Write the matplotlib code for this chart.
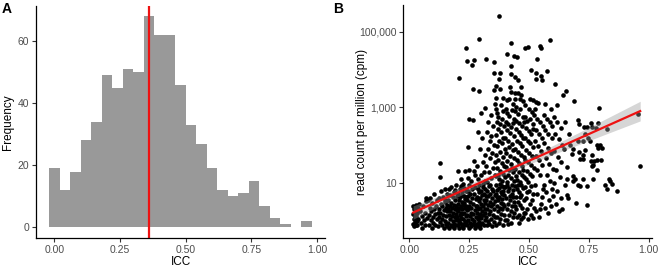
import numpy as np
import matplotlib.pyplot as plt

plt.rcParams['font.family'] = ['Liberation Sans', 'DejaVu Sans']

# -------------------------------
# Panel A: histogram of ICC
# -------------------------------
bin_centers = [0.00, 0.04, 0.08, 0.12, 0.16, 0.20, 0.24, 0.28, 0.32, 0.36, 0.40, 0.44,
               0.48, 0.52, 0.56, 0.60, 0.64, 0.68, 0.72, 0.76, 0.80, 0.84, 0.88, 0.92, 0.96]
bin_counts = [19, 12, 18, 28, 34, 49, 45, 51, 50, 68, 62, 62,
              46, 33, 27, 19, 12, 10, 11, 15, 7, 3, 1, 0, 2]
icc_mean = 0.36

# -------------------------------
# Panel B: ICC vs log10(cpm) (grouped by ICC strip)
# -------------------------------
icc = [
    # 0.00-0.04
    0.016, 0.018, 0.017, 0.019, 0.016, 0.020, 0.022, 0.024, 0.023, 0.025, 0.026, 0.028, 0.029, 0.030, 0.031, 0.033, 0.034, 0.036, 0.038,
    # 0.04-0.08
    0.042, 0.045, 0.048, 0.052, 0.055, 0.058, 0.061, 0.064, 0.067, 0.071, 0.074, 0.077, 0.069,
    # 0.08-0.12
    0.081, 0.083, 0.085, 0.087, 0.089, 0.091, 0.093, 0.095, 0.097, 0.099, 0.102, 0.104, 0.106, 0.109, 0.111, 0.114, 0.116, 0.118,
    # 0.12-0.16
    0.121, 0.122, 0.124, 0.125, 0.127, 0.129, 0.129, 0.130, 0.132, 0.133, 0.135, 0.137, 0.138, 0.140, 0.142, 0.143, 0.145, 0.147,
    0.149, 0.150, 0.152, 0.153, 0.155, 0.156, 0.157, 0.158, 0.159, 0.151,
    # 0.16-0.20
    0.161, 0.162, 0.163, 0.165, 0.166, 0.167, 0.168, 0.170, 0.171, 0.172, 0.174, 0.175, 0.176, 0.178, 0.179, 0.180, 0.181, 0.183,
    0.184, 0.185, 0.186, 0.187, 0.189, 0.190, 0.191, 0.192, 0.193, 0.194, 0.195, 0.196, 0.197, 0.198, 0.199, 0.188,
    # 0.20-0.24
    0.207, 0.235, 0.203, 0.231, 0.215, 0.226,
    0.201, 0.202, 0.203, 0.204, 0.205, 0.206, 0.207, 0.208, 0.209, 0.210, 0.211, 0.212, 0.213, 0.214, 0.216, 0.217, 0.218, 0.219,
    0.220, 0.221, 0.222, 0.223, 0.224, 0.225, 0.227, 0.228, 0.229, 0.230, 0.232, 0.233, 0.234, 0.236, 0.237, 0.238, 0.239, 0.229,
    0.219, 0.209, 0.226, 0.214, 0.236, 0.203, 0.238,
    # 0.24-0.28
    0.242, 0.270, 0.261, 0.265, 0.251, 0.268, 0.247, 0.272, 0.251, 0.272, 0.276,
    0.241, 0.242, 0.243, 0.244, 0.245, 0.246, 0.247, 0.248, 0.249, 0.250, 0.252, 0.253, 0.254, 0.255, 0.256, 0.257, 0.258, 0.259,
    0.260, 0.262, 0.263, 0.264, 0.266, 0.267, 0.269, 0.271, 0.273, 0.274, 0.275, 0.277, 0.278, 0.279, 0.245, 0.276,
    # 0.28-0.32
    0.292, 0.290, 0.318, 0.300, 0.303, 0.314, 0.285, 0.295, 0.308, 0.283, 0.312, 0.298, 0.288, 0.317,
    0.281, 0.282, 0.283, 0.284, 0.285, 0.286, 0.287, 0.288, 0.289, 0.290, 0.291, 0.292, 0.293, 0.294, 0.295, 0.296, 0.297, 0.299,
    0.300, 0.301, 0.302, 0.304, 0.305, 0.306, 0.307, 0.309, 0.310, 0.311, 0.313, 0.314, 0.315, 0.316, 0.317, 0.318, 0.319, 0.297, 0.308,
    # 0.32-0.36
    0.321, 0.354, 0.355, 0.354, 0.357, 0.340, 0.330, 0.348, 0.325, 0.343, 0.335, 0.352, 0.328, 0.345, 0.338, 0.356, 0.322, 0.349,
    0.333, 0.358, 0.341, 0.326,
    0.321, 0.322, 0.323, 0.324, 0.325, 0.327, 0.328, 0.329, 0.331, 0.332, 0.334, 0.335, 0.337, 0.339, 0.340, 0.342, 0.344, 0.346,
    0.347, 0.349, 0.350, 0.351, 0.353, 0.355, 0.356, 0.358, 0.359, 0.336,
    # 0.36-0.40
    0.374, 0.378, 0.375, 0.364, 0.378, 0.364, 0.392, 0.382,
    0.362, 0.368, 0.372, 0.385, 0.391, 0.365, 0.378, 0.396, 0.370, 0.383, 0.361, 0.392, 0.375, 0.387, 0.366, 0.398, 0.379, 0.363,
    0.390, 0.372, 0.385, 0.395, 0.367, 0.380, 0.392, 0.362, 0.375, 0.388, 0.398, 0.370,
    0.361, 0.363, 0.365, 0.366, 0.368, 0.369, 0.371, 0.373, 0.374, 0.376, 0.377, 0.379, 0.381, 0.382, 0.384, 0.386, 0.387, 0.389,
    0.390, 0.391, 0.393, 0.394, 0.396, 0.397, 0.399, 0.380, 0.367, 0.385, 0.395, 0.364,
    # 0.40-0.44
    0.426, 0.406, 0.438, 0.424, 0.424, 0.419, 0.426, 0.406, 0.415, 0.435,
    0.402, 0.410, 0.418, 0.428, 0.436, 0.404, 0.414, 0.425, 0.433, 0.407, 0.420, 0.438, 0.401, 0.412, 0.429, 0.416, 0.434, 0.405,
    0.422, 0.439, 0.409, 0.426, 0.403, 0.418, 0.432, 0.411, 0.424, 0.437, 0.406, 0.430,
    0.401, 0.404, 0.406, 0.408, 0.411, 0.413, 0.416, 0.418, 0.421, 0.423, 0.426, 0.428, 0.430, 0.433, 0.435, 0.437, 0.439, 0.419,
    0.409, 0.427, 0.414, 0.432,
    # 0.44-0.48
    0.449, 0.443, 0.454, 0.440, 0.454, 0.468, 0.465, 0.442, 0.461, 0.475, 0.447,
    0.441, 0.452, 0.463, 0.474, 0.446, 0.458, 0.470, 0.478, 0.444, 0.456, 0.467, 0.476, 0.449, 0.461, 0.472, 0.442, 0.455, 0.468,
    0.479, 0.448, 0.460, 0.471, 0.443, 0.457, 0.469, 0.477, 0.451, 0.464, 0.445, 0.473,
    0.441, 0.444, 0.447, 0.450, 0.453, 0.456, 0.459, 0.462, 0.465, 0.468, 0.471, 0.474, 0.477, 0.479, 0.452, 0.466, 0.458, 0.449,
    0.475, 0.462, 0.443,
    # 0.48-0.52
    0.485, 0.496, 0.510, 0.503, 0.517, 0.485, 0.500, 0.512,
    0.482, 0.491, 0.505, 0.515, 0.487, 0.498, 0.509, 0.518, 0.483, 0.494, 0.506, 0.516, 0.488, 0.499, 0.511, 0.484, 0.495, 0.507,
    0.519, 0.490, 0.502, 0.513, 0.486, 0.497,
    0.481, 0.487, 0.493, 0.499, 0.504, 0.510, 0.515, 0.519, 0.484, 0.496, 0.508, 0.513, 0.490, 0.517,
    # 0.52-0.56
    0.544, 0.549, 0.535, 0.531, 0.551, 0.531, 0.554, 0.531, 0.538, 0.525,
    0.522, 0.534, 0.546, 0.557, 0.527, 0.540, 0.552, 0.524, 0.537, 0.549, 0.529, 0.543, 0.556, 0.532, 0.547,
    0.523, 0.535, 0.548, 0.558, 0.528, 0.541, 0.553, 0.545,
    # 0.56-0.60
    0.586, 0.576, 0.565, 0.590,
    0.562, 0.575, 0.588, 0.597, 0.568, 0.581, 0.594, 0.564, 0.578, 0.591, 0.570, 0.585, 0.598, 0.573,
    0.561, 0.572, 0.583, 0.595, 0.566, 0.579, 0.590, 0.599, 0.586,
    # 0.60-0.64
    0.607, 0.615, 0.603, 0.618, 0.632, 0.610, 0.625, 0.638, 0.606, 0.621, 0.635, 0.614, 0.629, 0.604, 0.617, 0.633, 0.611, 0.626, 0.639,
    # tail
    0.656, 0.642, 0.668, 0.678, 0.657, 0.657, 0.664, 0.650, 0.645, 0.660, 0.672, 0.648,
    0.686, 0.682, 0.692, 0.685, 0.685, 0.696, 0.706, 0.713, 0.706, 0.710, 0.706, 0.710, 0.713,
    0.726, 0.733, 0.726, 0.726, 0.740, 0.743, 0.740, 0.726, 0.729, 0.735, 0.747,
    0.754, 0.761, 0.765, 0.761, 0.757, 0.771, 0.768, 0.761, 0.785, 0.785, 0.782, 0.789, 0.789, 0.792, 0.757, 0.778,
    0.796, 0.799, 0.803, 0.817, 0.824, 0.824, 0.835,
    0.840, 0.846, 0.868,
    0.955, 0.964,
]
log10_cpm = [
    # 0.00-0.04
    0.40, 0.30, 0.18, 0.05, -0.08, -0.14, 0.35, 0.22, 0.10, -0.02, -0.12, 0.42, 0.28, 0.14, 0.00, -0.10, 0.20, 0.33, 0.06,
    # 0.04-0.08
    0.45, 0.25, -0.05, 0.12, -0.20, 0.38, 0.02, 0.22, -0.10, 0.60, 0.08, 0.55, 0.52,
    # 0.08-0.12
    0.15, -0.12, 0.60, 0.35, 0.02, 0.25, -0.18, 0.48, 0.10, -0.05, 0.30, 0.70, 0.18, -0.10, 0.40, 0.05, 0.55, 0.22,
    # 0.12-0.16
    -0.15, 0.10, 0.32, 0.60, -0.02, 1.53, 1.15, 0.20, 0.45, 0.78, -0.10, 0.05, 0.38, 0.62, 0.15, -0.18, 0.28, 0.50,
    0.00, 0.85, 0.35, -0.08, 0.12, 0.70, 0.42, -0.15, 0.25, 0.55,
    # 0.16-0.20
    0.30, -0.05, 0.55, 0.85, 0.15, -0.18, 0.40, 0.68, 0.05, 0.25, -0.10, 0.48, 0.90, 0.12, 0.35, -0.15, 0.62, 0.00,
    0.20, 0.75, 0.42, -0.08, 0.82, 0.10, 0.30, 0.55, -0.12, 0.18, 0.95, 0.38, 0.02, 0.65, 0.28, -0.20,
    # 0.20-0.24
    3.78, 4.56, 1.31, 1.33, 1.10, 0.98,
    0.10, 0.45, -0.12, 0.70, 0.25, 0.02, 0.55, -0.18, 0.35, 0.85, 0.15, -0.05, 0.62, 0.40, 0.08, 0.92, -0.15, 0.30,
    0.50, 0.18, 0.75, -0.08, 0.42, 0.05, 0.65, 0.22, -0.12, 0.88, 0.35, 0.00, 0.58, 0.12, 0.80, -0.02, 0.28, 0.48,
    0.68, -0.02, -0.20, 0.20, 0.40, 0.32, 0.62,
    # 0.24-0.28
    4.23, 4.25, 4.11, 3.49, 2.68, 2.66, 1.95, 1.57, 1.35, 1.31, 1.22,
    0.15, 0.55, -0.10, 0.80, 0.30, 0.02, 0.65, -0.18, 0.40, 0.95, 0.12, -0.05, 0.50, 0.72, 0.22, -0.15, 1.05, 0.35,
    0.05, 0.60, 0.85, -0.08, 0.18, 0.45, 0.00, 0.70, 0.28, -0.12, 0.90, 0.38, 0.10, 0.58, 1.12, -0.20,
    # 0.28-0.32
    4.80, 3.44, 2.97, 2.84, 2.19, 1.75, 2.35, 1.90, 1.55, 1.45, 1.30, 1.20, 1.10, 1.05,
    0.20, -0.08, 0.62, 0.40, 0.05, 0.85, -0.15, 0.30, 0.52, 0.12, 0.75, -0.02, 0.95, 0.35, 0.18, -0.12, 0.60, 0.45,
    0.08, 0.80, 0.25, -0.05, 0.68, 0.38, 0.90, 0.15, 0.55, -0.10, 0.72, 0.30, 0.02, 0.48, 0.85, 0.20, 0.65, -0.18, 0.98,
    # 0.32-0.36
    4.29, 4.21, 3.92, 3.46, 3.08, 2.80, 2.60, 2.50, 2.35, 2.25, 2.10, 2.00, 1.90, 1.80, 1.65, 1.55, 1.45, 1.40,
    1.30, 1.20, 1.12, 1.02,
    0.10, 0.55, -0.12, 0.80, 0.30, 0.00, 0.65, 0.42, 0.18, 0.92, -0.08, 0.50, 0.25, 0.72, 0.05, 0.38, 0.85, -0.15,
    0.60, 0.15, 0.45, 0.78, -0.02, 0.32, 0.68, 0.10, 0.52, 0.95,
    # 0.36-0.40
    5.42, 3.92, 3.74, 3.56, 3.48, 3.24, 3.24, 3.06,
    2.95, 2.85, 2.75, 2.68, 2.90, 2.60, 2.55, 2.50, 2.42, 2.35, 2.28, 2.20, 2.12, 2.05, 1.98, 1.90, 1.82, 1.75,
    1.68, 1.60, 1.52, 1.45, 1.40, 1.32, 1.25, 1.18, 1.10, 1.05, 1.15, 1.22,
    0.95, 0.70, 0.40, 0.10, 0.82, 0.55, 0.25, -0.05, 0.88, 0.62, 0.35, 0.05, 0.75, 0.48, 0.18, 0.92, 0.58, 0.30,
    -0.10, 0.80, 0.45, 0.15, 0.68, 0.38, 0.02, 0.98, 0.62, 0.72, 0.90, -0.12,
    # 0.40-0.44
    4.69, 4.40, 4.37, 4.09, 3.88, 3.55, 3.41, 3.19, 3.22, 3.10,
    2.95, 2.85, 2.78, 2.92, 2.70, 2.62, 2.55, 2.48, 2.58, 2.40, 2.32, 2.25, 2.18, 2.10, 2.02, 1.95, 1.88, 1.80,
    1.72, 1.65, 1.58, 1.50, 1.42, 1.35, 1.28, 1.20, 1.12, 1.05, 1.02, 1.40,
    0.90, 0.60, 0.30, 0.02, 0.78, 0.45, 0.15, 0.88, 0.55, 0.25, -0.05, 0.70, 0.40, 0.10, 0.82, 0.50, 0.20, 0.65,
    0.95, 0.95, -0.08, 0.62,
    # 0.44-0.48
    4.34, 3.79, 3.72, 3.39, 3.37, 3.33, 3.53, 3.23, 3.21, 3.17, 3.00,
    2.90, 2.82, 2.95, 2.75, 2.65, 2.58, 2.50, 2.62, 2.42, 2.35, 2.28, 2.20, 2.12, 2.05, 1.98, 1.90, 1.82, 1.75,
    1.68, 1.60, 1.52, 1.45, 1.38, 1.30, 1.22, 1.15, 1.08, 1.02, 1.18, 1.35,
    0.92, 0.62, 0.30, 0.85, 0.50, 0.15, 0.75, 0.42, 0.05, 0.68, 0.35, 0.88, 0.55, 0.20, 0.95, 0.95, -0.05, 0.10,
    0.10, 0.62, 0.40,
    # 0.48-0.52
    4.56, 4.60, 4.00, 3.22, 3.19, 3.05, 2.95, 2.88,
    2.75, 2.65, 2.70, 2.55, 2.45, 2.38, 2.30, 2.42, 2.20, 2.12, 2.05, 1.95, 1.88, 1.80, 1.72, 1.62, 1.55, 1.48,
    1.40, 1.32, 1.25, 1.18, 1.10, 1.02,
    0.90, 0.60, 0.30, 0.80, 0.45, 0.15, 0.70, 0.35, 0.20, 0.05, 0.92, 0.55, 0.75, 0.08,
    # 0.52-0.56
    4.63, 4.56, 4.27, 3.90, 3.83, 3.74, 3.72, 3.15, 3.11, 2.95,
    2.80, 2.70, 2.60, 2.50, 2.40, 2.30, 2.20, 2.10, 1.98, 1.85, 1.72, 1.60, 1.48, 1.35, 1.20,
    0.95, 0.70, 0.45, 0.85, 0.25, 0.10, 0.62, 0.30,
    # 0.56-0.60
    4.78, 3.96, 3.10, 2.95,
    2.80, 2.70, 2.62, 2.50, 2.40, 2.30, 2.18, 2.05, 1.92, 1.80, 1.65, 1.50, 1.38, 1.22,
    0.95, 0.75, 0.55, 0.85, 0.35, 0.20, 0.40, 0.65, 1.05,
    # 0.60-0.64
    3.62, 3.05, 2.75, 2.60, 2.45, 2.30, 2.15, 2.00, 1.85, 1.70, 1.55, 1.35, 1.15, 1.00, 0.80, 0.60, 0.45, 0.25, 0.30,
    # tail
    3.44, 3.33, 2.30, 1.77, 1.41, 0.67, 0.60, 2.60, 1.90, 1.10, 2.00, 0.95,
    3.18, 1.18, 1.11, 1.04, 1.91, 0.47, 0.96, 0.91, 2.67, 2.56, 2.10, 1.82, 1.64,
    1.75, 1.88, 2.10, 1.11, 0.91, 0.41, 2.47, 1.64, 2.49, 2.30, 2.19,
    2.10, 2.47, 1.11, 1.75, 1.57, 1.57, 1.48, 1.44, 1.62, 1.35, 2.01, 1.93, 2.59, 2.97, 2.59, 2.46,
    2.01, 1.62, 1.93, 0.96, 0.85, 2.43, 1.11,
    1.06, 0.98, 0.78,
    2.82, 1.45,
]

x = np.array(icc)
ly = np.array(log10_cpm)
cpm = 10 ** ly

# linear fit in log space + 95% confidence band (like geom_smooth(method='lm'))
b, a = np.polyfit(x, ly, 1)
xs = np.linspace(x.min(), x.max(), 100)
yfit = a + b * xs
n = len(x)
resid = ly - (a + b * x)
s = np.sqrt(np.sum(resid ** 2) / (n - 2))
se = s * np.sqrt(1 / n + (xs - x.mean()) ** 2 / np.sum((x - x.mean()) ** 2))

# -------------------------------
# Figure
# -------------------------------
W, H = 659, 269
fig = plt.figure(figsize=(W / 100, H / 100), dpi=100)

tick_col = '#333333'
lab_col = '#4D4D4D'

def style(ax):
    for sp in ['top', 'right']:
        ax.spines[sp].set_visible(False)
    for sp in ['left', 'bottom']:
        ax.spines[sp].set_linewidth(0.9)
    ax.tick_params(length=3, width=0.8, colors=tick_col, labelcolor=lab_col, labelsize=7.5, pad=2)
    ax.set_xticks([0, 0.25, 0.5, 0.75, 1.0])
    ax.set_xticklabels(['0.00', '0.25', '0.50', '0.75', '1.00'])

# A
axA = fig.add_axes([36 / W, 1 - 238 / H, (325 - 36) / W, (238 - 5.6) / H])
axA.bar(bin_centers, bin_counts, width=0.04, color='#999999', linewidth=0)
axA.axvline(icc_mean, color='#EE1111', lw=1.6)
axA.set_xlim(-0.07, 1.03)
axA.set_ylim(-3.4, 71.4)
axA.set_yticks([0, 20, 40, 60])
style(axA)
axA.set_xlabel('ICC', fontsize=8.5, labelpad=1)
axA.set_ylabel('Frequency', fontsize=8.5)
axA.yaxis.set_label_coords(-22 / (325 - 36), 0.5)

# B
axB = fig.add_axes([403.3 / W, 1 - 238 / H, (651.7 - 403.3) / W, (238 - 5) / H])
axB.scatter(x, cpm, s=11, color='black', linewidths=0, zorder=2)
axB.fill_between(xs, 10 ** (yfit - 1.96 * se), 10 ** (yfit + 1.96 * se), color='#999999', alpha=0.4, lw=0, zorder=3)
axB.plot(xs, 10 ** yfit, color='#EE1111', lw=1.6, zorder=4)
axB.set_yscale('log')
axB.set_xlim(-0.025, 1.012)
axB.set_ylim(10 ** -0.454, 10 ** 5.705)
axB.set_yticks([10, 1000, 100000])
axB.set_yticklabels(['10', '1,000', '100,000'])
axB.minorticks_off()
style(axB)
axB.set_xlabel('ICC', fontsize=8.5, labelpad=1)
axB.set_ylabel('read count per million (cpm)', fontsize=8.5)
axB.yaxis.set_label_coords(-35 / (651.7 - 403.3), 0.5)

fig.text(2 / W, 1 - 2 / H, 'A', fontsize=10, fontweight='bold', va='top', ha='left')
fig.text(333 / W, 1 - 2 / H, 'B', fontsize=10, fontweight='bold', va='top', ha='left')

fig.savefig('out.png', dpi=100)
